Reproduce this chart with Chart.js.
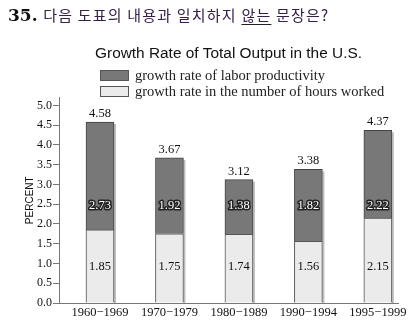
<!DOCTYPE html>
<html>
<head>
<meta charset="utf-8">
<script src="https://cdn.jsdelivr.net/npm/chart.js@4"></script>
<style>
  html, body { margin: 0; padding: 0; background: #fff; }
  #wrap { position: relative; width: 419px; height: 326px; overflow: hidden; }
  #growthChart { position: absolute; left: 0; top: 0; }
  #question { position: absolute; left: 8px; top: 4px; white-space: nowrap; z-index: 2; }
  #question .num { font: bold 17px "DejaVu Serif"; color: #111; }
  #question .ko { font: 15px "Noto Sans CJK KR"; color: #35204a; margin-left: 1px; letter-spacing: 1.2px; }
  #question u { text-underline-offset: 3px; text-decoration-color: #222; }
  #legend { position: absolute; left: 100px; top: 67px; z-index: 2; font: 14.5px "Liberation Serif"; color: #222; }
  #legend .row { display: flex; align-items: center; height: 16px; }
  #legend .box { width: 27px; height: 9px; border: 1px solid #555; margin-right: 6px; }
</style>
</head>
<body>
<div id="wrap">
  <div id="question"><span class="num">35.</span><span class="ko"> 다음 도표의 내용과 일치하지 <u>않는</u> 문장은?</span></div>
  <div id="legend"></div>
  <canvas id="growthChart" width="419" height="326"></canvas>
</div>
<script>
// 기간별 데이터
const periods = ['1960−1969', '1970−1979', '1980−1989', '1990−1994', '1995−1999'];
const hoursWorked = [1.85, 1.75, 1.74, 1.56, 2.15];
const laborProductivity = [2.73, 1.92, 1.38, 1.82, 2.22];
const totalOutput = [4.58, 3.67, 3.12, 3.38, 4.37];
const yTicks = [0, 0.5, 1.0, 1.5, 2.0, 2.5, 3.0, 3.5, 4.0, 4.5, 5.0];

// 막대 오른쪽 그림자
const barShadow = {
  id: 'barShadow',
  beforeDatasetsDraw(chart) {
    const ctx = chart.ctx;
    ctx.save();
    ctx.fillStyle = '#bdbdbd';
    const bottom = chart.scales.y.getPixelForValue(0);
    chart.getDatasetMeta(1).data.forEach(bar => {
      ctx.fillRect(bar.x + bar.width / 2, bar.y + 2, 2, bottom - bar.y - 2);
    });
    ctx.restore();
  }
};

// 막대 위/안의 숫자
const barLabels = {
  id: 'barLabels',
  afterDatasetsDraw(chart) {
    const ctx = chart.ctx;
    const yScale = chart.scales.y;
    const topBars = chart.getDatasetMeta(1).data;
    ctx.save();
    ctx.font = '12.5px "Liberation Serif"';
    ctx.textAlign = 'center';
    topBars.forEach((bar, i) => {
      ctx.fillStyle = '#111';
      ctx.textBaseline = 'bottom';
      ctx.fillText(totalOutput[i].toFixed(2), bar.x, bar.y - 2);
      ctx.textBaseline = 'middle';
      ctx.fillText(hoursWorked[i].toFixed(2), bar.x, yScale.getPixelForValue(0.92));
      const py = yScale.getPixelForValue(2.46);
      ctx.lineJoin = 'round';
      ctx.lineWidth = 3;
      ctx.strokeStyle = '#222';
      ctx.strokeText(laborProductivity[i].toFixed(2), bar.x, py);
      ctx.fillStyle = '#fff';
      ctx.fillText(laborProductivity[i].toFixed(2), bar.x, py);
    });
    ctx.restore();
  }
};

const ctx = document.getElementById('growthChart').getContext('2d');
const chart = new Chart(ctx, {
  type: 'bar',
  data: {
    datasets: [{
      label: 'growth rate in the number of hours worked',
      data: hoursWorked.map((v, i) => ({ x: i, y: v })),
      backgroundColor: '#ebebeb',
      borderColor: '#555',
      borderWidth: 1,
      barThickness: 28
    }, {
      label: 'growth rate of labor productivity',
      data: laborProductivity.map((v, i) => ({ x: i, y: v })),
      backgroundColor: '#787878',
      borderColor: '#444',
      borderWidth: 1,
      barThickness: 28
    }]
  },
  options: {
    responsive: false,
    animation: false,
    layout: { padding: { left: 7, right: 21, top: 0, bottom: 4 } },
    plugins: {
      legend: { display: false },
      tooltip: { enabled: false },
      title: {
        display: true,
        fullSize: false,
        text: 'Growth Rate of Total Output in the U.S.',
        color: '#111',
        font: { family: '"Liberation Sans"', size: 15.4, weight: 'normal' },
        padding: { top: 45, bottom: 34 }
      }
    },
    scales: {
      x: {
        type: 'linear',
        stacked: true,
        offset: false,
        min: -0.59,
        max: 4.29,
        afterBuildTicks: (scale) => { scale.ticks = periods.map((p, i) => ({ value: i })); },
        ticks: {
          callback: (v) => periods[v],
          color: '#111',
          font: { family: '"Liberation Serif"', size: 12.5 },
          padding: 2,
          maxRotation: 0
        },
        grid: { display: false, drawTicks: false },
        border: { color: '#777' }
      },
      y: {
        stacked: true,
        min: 0,
        max: 5.2,
        afterBuildTicks: (scale) => { scale.ticks = yTicks.map(v => ({ value: v })); },
        ticks: {
          callback: (v) => v.toFixed(1),
          color: '#111',
          font: { family: '"Liberation Serif"', size: 12 },
          padding: 1
        },
        grid: { drawOnChartArea: false, drawTicks: true, tickLength: 6, color: '#777' },
        border: { color: '#777' },
        title: {
          display: true,
          text: 'PERCENT',
          color: '#111',
          font: { family: '"Liberation Sans"', size: 10 },
          padding: { top: 17, bottom: 0 }
        }
      }
    }
  },
  plugins: [barShadow, barLabels]
});

// 범례: 위쪽(어두운) 계열부터
const legend = document.getElementById('legend');
chart.data.datasets.slice().reverse().forEach(ds => {
  const row = document.createElement('div');
  row.className = 'row';
  const box = document.createElement('span');
  box.className = 'box';
  box.style.background = ds.backgroundColor;
  row.appendChild(box);
  row.appendChild(document.createTextNode(ds.label));
  legend.appendChild(row);
});
</script>
</body>
</html>
